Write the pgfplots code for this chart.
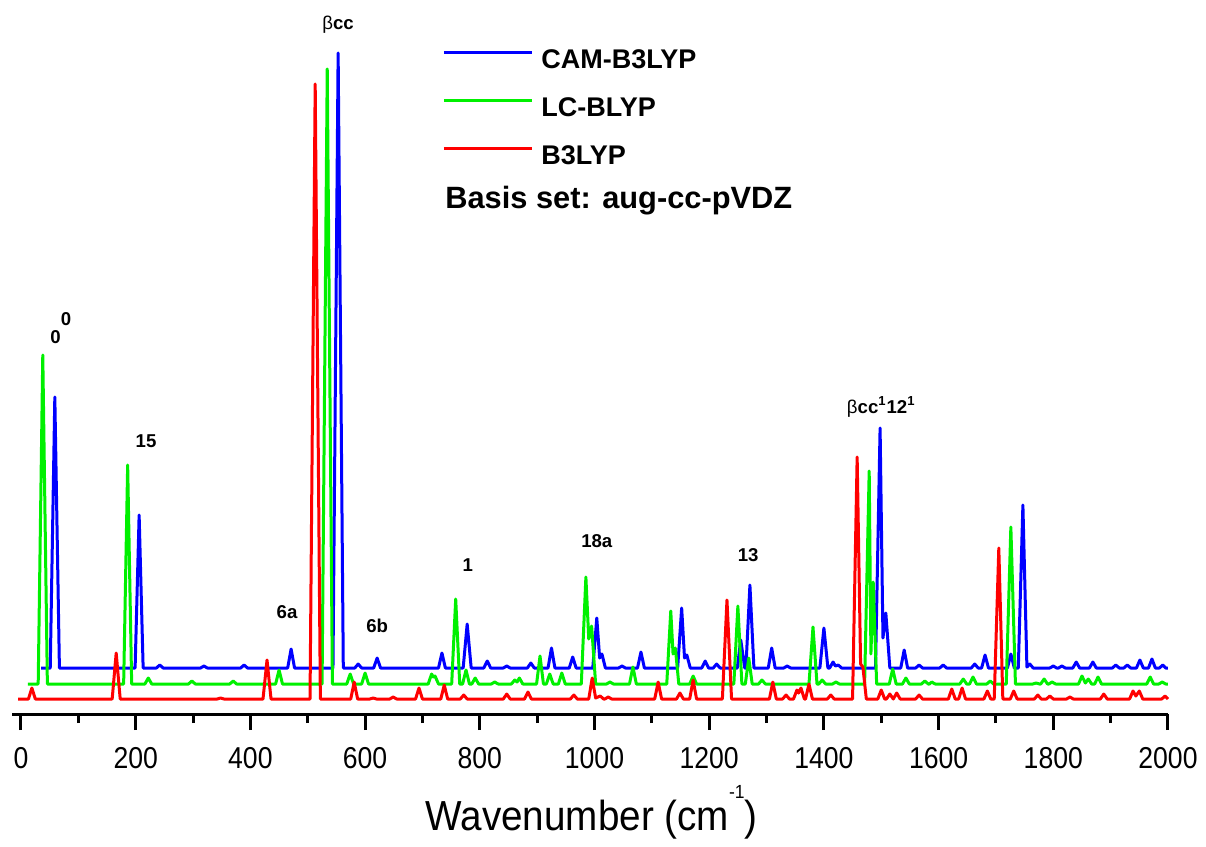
\documentclass[border=0pt]{standalone}
\usepackage{fontspec}
\setmainfont{Liberation Sans}
\newfontfamily\narrowfont[FakeStretch=0.88]{Liberation Sans}
\newfontfamily\labelfont[FakeStretch=0.92]{Liberation Sans}
\usepackage{pgfplots}
\pgfplotsset{compat=1.18}
\definecolor{cblue}{RGB}{0,0,255}
\definecolor{cgreen}{RGB}{0,240,0}
\definecolor{cred}{RGB}{255,0,0}
\begin{document}
\begin{tikzpicture}
\begin{axis}[
  x=0.28675pt, y=0.5pt,
  xmin=-15, xmax=2000, ymin=0, ymax=714,
  enlargelimits=false, clip=false,
  axis x line*=bottom, axis y line=none,
  axis line style={line width=1.5pt, black},
  xtick={0,200,...,2000}, minor x tick num=1,
  tick align=outside, major tick length=8pt, minor tick length=4.5pt,
  tick style={black, line width=1.5pt},
  scaled x ticks=false,
  /pgf/number format/assume math mode=true,
  /pgf/number format/1000 sep={},
  xticklabel style={font=\narrowfont\fontsize{15.1}{15.1}\selectfont, anchor=base, yshift=-19pt},
  xlabel={Wavenumber (cm\raisebox{16pt}{\fontsize{9.5}{9.5}\selectfont -1})},
  xlabel style={at={(axis cs:994.8,-116)}, anchor=base, font=\labelfont\fontsize{21}{21}\selectfont},
  legend style={at={(axis cs:734.1,665.7)}, anchor=north west, draw=none, fill=none,
    inner sep=0pt, row sep=14.3pt, column sep=4pt,
    font=\bfseries\fontsize{13.5}{13.5}\selectfont,
    nodes={inner sep=0pt, text height=9.7pt, text depth=0pt}},
  legend cell align=left,
  legend image code/.code={\draw[#1, line width=1.5pt] (0pt,3pt) -- (44pt,3pt);},
  every axis plot/.append style={line width=1.5pt, line join=round},
]
% CAM-B3LYP (baseline 46)
\addplot[cblue] coordinates {
(35,46)
(51,46) (59,317) (67,46)
(199,46) (206,199) (213,46)
(236,46) (242,49) (248,46)
(313,46) (319,48) (325,46)
(383,46) (389,49) (395,46)
(465,46) (471,65) (477,46)
(544,46) (553,661) (562,46)
(582,46) (588,50) (594,46)
(615,46) (621,56) (627,46)
(728,46) (734,61) (740,46)
(771,46) (778,90) (785,46)
(807,46) (813,53) (819,46)
(841,46) (847,48) (853,46)
(883,46) (889,51) (895,46)
(919,46) (925,66) (931,46)
(956,46) (962,57) (968,46)
(997,46) (1004,96) (1009,56) (1013,60) (1019,46)
(1042,46) (1048,48) (1054,46)
(1075,46) (1081,62) (1087,46)
(1145,46) (1152,106) (1157,56) (1161,59) (1167,46)
(1187,46) (1193,53) (1199,46)
(1207,46) (1213,50) (1219,46)
(1249,46) (1255,74) (1262,46) (1264,46) (1271,129) (1278,46)
(1303,46) (1309,66) (1315,46)
(1330,46) (1336,48) (1342,46)
(1393,46) (1400,86) (1407,46)
(1410,46) (1416,52) (1420,48) (1425,49) (1431,46)
(1490,46) (1498,286) (1503,76) (1508,101) (1515,46)
(1534,46) (1540,64) (1546,46)
(1560,46) (1566,49) (1572,46)
(1602,46) (1608,49) (1614,46)
(1657,46) (1663,50) (1669,46)
(1675,46) (1681,59) (1687,46)
(1720,46) (1726,60) (1732,46)
(1739,46) (1747,209) (1754,47) (1759,50) (1765,46)
(1794,46) (1800,48) (1806,46)
(1809,46) (1815,48) (1821,46)
(1834,46) (1840,52) (1846,46)
(1863,46) (1869,52) (1875,46)
(1903,46) (1909,49) (1915,46)
(1923,46) (1929,49) (1935,46)
(1945,46) (1951,54) (1957,46)
(1966,46) (1972,55) (1978,46)
(1985,46) (1991,49) (1996,46)
(2000,46)
};
\addlegendentry{CAM-B3LYP}
% LC-BLYP (baseline 30)
\addplot[cgreen] coordinates {
(12,30)
(30,30) (38,359) (46,30)
(179,30) (186,249) (193,30)
(216,30) (222,36) (228,30)
(292,30) (298,33) (304,30)
(364,30) (370,33) (376,30)
(444,30) (450,44) (456,30)
(525,30) (534,645) (543,30)
(568,30) (574,40) (580,30)
(594,30) (600,41) (606,30)
(710,30) (716,40) (719,37) (722,38) (728,30)
(751,30) (758,115) (765,30)
(770,30) (776,44) (782,30)
(786,30) (792,36) (798,30)
(820,30) (826,32) (832,30)
(855,30) (861,34) (865,32) (869,36) (875,30)
(899,30) (905,58) (911,30)
(916,30) (922,40) (928,30)
(937,30) (943,41) (949,30)
(977,30) (985,137) (990,75) (995,88) (1002,30)
(1021,30) (1027,32) (1033,30)
(1061,30) (1067,47) (1073,30)
(1126,30) (1133,103) (1137,60) (1141,66) (1147,30)
(1166,30) (1172,38) (1178,30)
(1243,30) (1250,108) (1257,30) (1263,30) (1269,56) (1275,30)
(1286,30) (1292,34) (1298,30)
(1374,30) (1381,87) (1388,30)
(1391,30) (1397,34) (1403,30)
(1415,30) (1421,32) (1427,30)
(1471,30) (1479,243) (1482,60) (1486,132) (1492,30)
(1514,30) (1520,45) (1526,30)
(1537,30) (1543,36) (1549,30)
(1570,30) (1576,33) (1582,30)
(1584,30) (1588,32) (1594,30)
(1637,30) (1643,35) (1649,30)
(1654,30) (1660,37) (1666,30)
(1684,30) (1690,33) (1696,30)
(1718,30) (1726,187) (1734,30)
(1764,30) (1770,31) (1776,30)
(1778,30) (1784,35) (1790,30)
(1792,30) (1798,32) (1804,30)
(1844,30) (1850,38) (1856,31) (1861,35) (1867,30)
(1872,30) (1878,37) (1884,30)
(1963,30) (1969,37) (1975,30)
(1984,30) (1990,32) (1996,30)
(2000,30)
};
\addlegendentry{LC-BLYP}
% B3LYP (baseline 15)
\addplot[cred] coordinates {
(-5,15)
(13,15) (19,26) (25,15)
(159,15) (166,61) (173,15)
(342,15) (348,16) (354,15)
(422,15) (429,54) (436,15)
(504,15) (513,630) (522,15)
(575,15) (581,32) (587,15)
(608,15) (614,16) (620,15)
(643,15) (649,17) (655,15)
(688,15) (694,26) (700,15)
(732,15) (738,29) (744,15)
(766,15) (772,19) (778,15)
(841,15) (847,20) (853,15)
(878,15) (884,22) (890,15)
(958,15) (964,19) (970,15)
(990,15) (996,36) (1002,16) (1010,18) (1016,15) (1018,15) (1024,17) (1030,15)
(1105,15) (1111,32) (1117,15)
(1143,15) (1149,21) (1155,15)
(1166,15) (1172,34) (1178,15)
(1223,15) (1231,114) (1239,15)
(1305,15) (1311,32) (1317,15)
(1328,15) (1334,19) (1340,15)
(1347,15) (1353,24) (1356,21) (1360,26) (1366,15) (1368,15) (1374,30) (1380,15)
(1406,15) (1412,19) (1418,15)
(1450,15) (1458,257) (1464,50) (1468,47) (1474,15)
(1494,15) (1500,24) (1506,15)
(1509,15) (1515,20) (1521,15) (1527,21) (1533,15)
(1560,15) (1566,19) (1572,15)
(1617,15) (1623,25) (1629,15)
(1635,15) (1641,26) (1647,15)
(1679,15) (1685,23) (1691,15)
(1697,15) (1705,166) (1712,15)
(1725,15) (1731,23) (1737,15)
(1767,15) (1773,19) (1779,15)
(1788,15) (1794,18) (1800,15)
(1823,15) (1829,17) (1835,15)
(1882,15) (1888,20) (1894,15)
(1933,15) (1939,23) (1944,18) (1950,23) (1956,15)
(1989,15) (1995,18) (2000,15)
};
\addlegendentry{B3LYP}
% annotations
\begin{scope}[every node/.style={inner sep=0pt, font=\bfseries\fontsize{9.3}{9.3}\selectfont}]
\node[anchor=base west] at (axis cs:50.6,371) {0\raisebox{9pt}{0}};
\node[anchor=base] at (axis cs:218,267) {15};
\node[anchor=base] at (axis cs:464,96) {6a};
\node[anchor=base] at (axis cs:553,684) {\mdseries β\bfseries cc};
\node[anchor=base] at (axis cs:621,82) {6b};
\node[anchor=base] at (axis cs:779,143) {1};
\node[anchor=base] at (axis cs:1004,167) {18a};
\node[anchor=base] at (axis cs:1268,153) {13};
\node[anchor=base] at (axis cs:1500,301) {\mdseries β\bfseries cc\textsuperscript{1}12\textsuperscript{1}};
\end{scope}
\node[anchor=base west, inner sep=0pt, font=\bfseries\fontsize{15.4}{15.4}\selectfont] at (axis cs:739.3,506) {Basis set: aug-cc-pVDZ};
\path (axis cs:-36.6,-132) rectangle (axis cs:2066.3,714);
\end{axis}
\end{tikzpicture}
\end{document}
